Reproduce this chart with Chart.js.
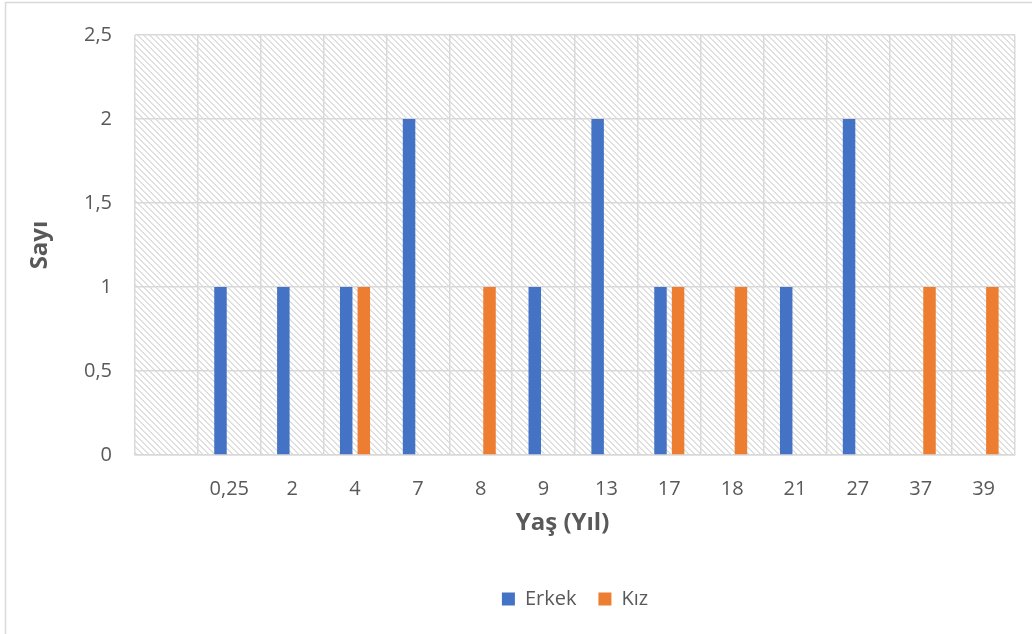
<!DOCTYPE html>
<html>
<head>
<meta charset="utf-8">
<script src="https://cdn.jsdelivr.net/npm/chart.js@4"></script>
<style>
  html, body { margin: 0; padding: 0; background: #fff; }
  #wrap { position: relative; width: 1032px; height: 634px; }
</style>
</head>
<body>
<div id="wrap"><canvas id="chart" width="1032" height="634"></canvas></div>
<script>
// Veriler
const yaslar = ['', '0,25', '2', '4', '7', '8', '9', '13', '17', '18', '21', '27', '37', '39'];
const erkek  = [0, 1, 1, 1, 2, 0, 1, 2, 1, 0, 1, 2, 0, 0];
const kiz    = [0, 0, 0, 1, 0, 1, 0, 0, 1, 1, 0, 0, 1, 1];
const yTicks = [0, 0.5, 1, 1.5, 2, 2.5];

const FONT = "'Open Sans', Lato, sans-serif";
const GRI = '#595959';
const IZGARA = '#d9d9d9';

// taralı arka plan deseni
function taramaDeseni() {
    const c = document.createElement('canvas');
    c.width = 6; c.height = 6;
    const g = c.getContext('2d');
    g.fillStyle = '#fff';
    g.fillRect(0, 0, 6, 6);
    g.fillStyle = '#e0e0e0';
    for (let y = 0; y < 6; y++) {
        g.fillRect(y, y, 1, 1);
        g.fillRect((y + 1) % 6, y, 1, 1);
    }
    return g.createPattern(c, 'repeat');
}

const arkaPlan = {
    id: 'arkaPlan',
    beforeDraw(chart) {
        const { ctx, chartArea: a } = chart;
        ctx.save();
        ctx.fillStyle = taramaDeseni();
        ctx.fillRect(a.left, a.top, a.right - a.left, a.bottom - a.top);
        // dış çerçeve (sol ve üst)
        ctx.strokeStyle = IZGARA;
        ctx.lineWidth = 1.5;
        ctx.beginPath();
        ctx.moveTo(5.5, 634);
        ctx.lineTo(5.5, 2.5);
        ctx.lineTo(1032, 2.5);
        ctx.stroke();
        ctx.restore();
    }
};

Chart.defaults.font.family = FONT;
Chart.defaults.color = GRI;

new Chart(document.getElementById('chart'), {
    type: 'bar',
    data: {
        labels: yaslar,
        datasets: [
            { label: 'Erkek', data: erkek, backgroundColor: '#4472C4', barPercentage: 0.71, categoryPercentage: 0.56 },
            { label: 'Kız', data: kiz, backgroundColor: '#ED7D31', barPercentage: 0.71, categoryPercentage: 0.56 }
        ]
    },
    options: {
        responsive: false,
        animation: false,
        layout: { padding: { left: 0, right: 17, top: 32, bottom: 15 } },
        plugins: {
            legend: {
                position: 'bottom',
                fullSize: false,
                labels: {
                    boxWidth: 13,
                    boxHeight: 13,
                    padding: 22,
                    color: GRI,
                    font: { size: 20, family: FONT }
                }
            },
            tooltip: { enabled: false }
        },
        scales: {
            x: {
                grid: { color: IZGARA, lineWidth: 1.5, drawTicks: false, offset: true },
                border: { color: IZGARA, width: 1.5 },
                ticks: { padding: 22, color: GRI, font: { size: 20 }, maxRotation: 0, autoSkip: false },
                title: {
                    display: true,
                    // sondaki boşluklar başlığı biraz sola kaydırır
                    text: 'Yaş (Yıl)\u00a0\u00a0\u00a0\u00a0',
                    color: GRI,
                    font: { size: 24, weight: 'bold' },
                    padding: { top: 0, bottom: 29 }
                },
                afterFit(s) { s.height = 112; }
            },
            y: {
                min: 0,
                max: 2.5,
                afterBuildTicks(s) { s.ticks = yTicks.map(v => ({ value: v })); },
                grid: { color: IZGARA, lineWidth: 1.5, drawTicks: false },
                border: { display: false },
                ticks: {
                    padding: 23,
                    color: GRI,
                    font: { size: 20 },
                    callback: v => String(v).replace('.', ',')
                },
                title: {
                    display: true,
                    text: 'Sayı',
                    color: GRI,
                    font: { size: 24, weight: 'bold' },
                    padding: { top: 26, bottom: 0 }
                },
                afterFit(s) { s.width = 135; }
            }
        }
    },
    plugins: [arkaPlan]
});
</script>
</body>
</html>
